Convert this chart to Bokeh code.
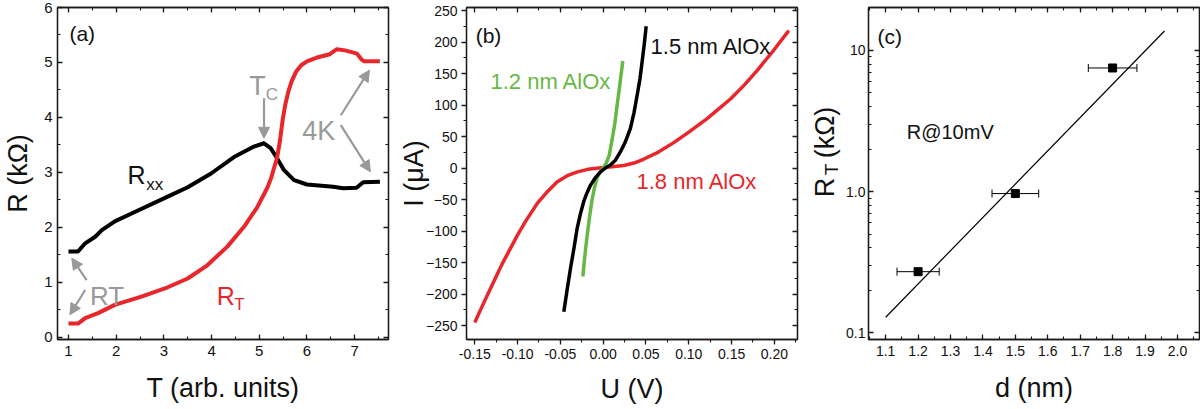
import math
from bokeh.plotting import figure
from bokeh.models import (Label, Arrow, NormalHead, LinearAxis, LogAxis,
                          SingleIntervalTicker, FixedTicker, NumeralTickFormatter,
                          Whisker, TeeHead, ColumnDataSource, Range1d)
from bokeh.layouts import row
from bokeh.embed import file_html
from bokeh.resources import INLINE

# ---------------- data: panel (a) ----------------
T_rxx = [1.0, 1.2, 1.35, 1.56, 1.7, 1.97, 2.39, 3.08, 3.50, 3.99, 4.47, 4.89, 5.10,
         5.24, 5.38, 5.52, 5.73, 6.0, 6.55, 6.76, 7.04, 7.18, 7.53]
R_xx = [1.56, 1.56, 1.71, 1.83, 1.95, 2.11, 2.28, 2.56, 2.73, 2.98, 3.28, 3.47, 3.53,
        3.44, 3.25, 3.04, 2.86, 2.78, 2.74, 2.71, 2.72, 2.82, 2.83]
T_rt = [1.0, 1.2, 1.35, 1.62, 1.97, 2.53, 3.08, 3.50, 3.91, 4.33, 4.68, 4.96, 5.17,
        5.25, 5.31, 5.37, 5.43, 5.49, 5.55, 5.61, 5.68, 5.77, 5.88, 6.00, 6.21, 6.48,
        6.62, 6.80, 7.05, 7.15, 7.20, 7.53]
R_t = [0.25, 0.25, 0.35, 0.44, 0.59, 0.74, 0.91, 1.07, 1.31, 1.65, 2.01, 2.37, 2.72,
       2.90, 3.08, 3.25, 3.55, 3.95, 4.25, 4.47, 4.66, 4.83, 4.95, 5.02, 5.09, 5.15,
       5.24, 5.22, 5.16, 5.05, 5.02, 5.02]

# ---------------- data: panel (b) ----------------
U_18 = [-0.150, -0.142, -0.134, -0.126, -0.118, -0.109, -0.100, -0.090, -0.077, -0.065,
        -0.054, -0.042, -0.030, -0.018, -0.005, 0.010, 0.024, 0.036, 0.047, 0.064,
        0.082, 0.100, 0.121, 0.135, 0.149, 0.165, 0.180, 0.198, 0.2168]
I_18 = [-245, -221, -198, -175, -152, -129, -106, -83, -56, -37, -22, -12, -6, -2, 0,
        2, 4, 8, 14, 25, 40, 57, 78, 94, 110, 132, 155, 185, 218]
U_15 = [-0.046, -0.042, -0.0382, -0.034, -0.0305, -0.0265, -0.0227, -0.0188, -0.0148,
        -0.009, -0.0032, 0.0025, 0.0085, 0.0145, 0.0202, 0.026, 0.0318, 0.036, 0.0397,
        0.043, 0.0455, 0.048, 0.0502]
I_15 = [-228, -192, -159, -126, -96, -72, -53, -39, -27, -15, -6, 0, 5, 13, 26, 42, 63,
        88, 116, 142, 169, 197, 225]
U_12 = [-0.0238, -0.0215, -0.019, -0.016, -0.013, -0.010, -0.007, -0.0035, 0.0, 0.0035,
        0.007, 0.010, 0.0135, 0.016, 0.019, 0.0229]
I_12 = [-172, -140, -110, -78, -50, -30, -15, -6, 0, 8, 20, 42, 70, 97, 128, 170]

# ---------------- data: panel (c) ----------------
d_nm = [1.2, 1.5, 1.8]
RT_kohm = [0.271, 0.968, 7.5]
d_err = [0.065, 0.072, 0.075]
fit_d = [1.1, 1.96]
fit_R = [0.129, 13.7]
c_yticks = [0.1, 1, 10]
c_ylabels = ["0.1", "1.0", "10"]
c_yminor = [0.2, 0.3, 0.4, 0.5, 0.6, 0.7, 0.8, 0.9, 2, 3, 4, 5, 6, 7, 8, 9, 20]

FONT = "Liberation Sans"
RED = "#E8262B"
GREEN = "#66B844"
GRAY = "#999999"
AX = "#1a1a1a"
TOP, BOTTOM = 7, 70


def style_axis(ax, tin, tout, fs, show=True):
    ax.axis_line_color = AX
    ax.axis_line_width = 1.3
    ax.major_tick_line_color = AX
    ax.major_tick_line_width = 1.3
    ax.minor_tick_line_color = AX
    ax.minor_tick_line_width = 1.1
    ax.major_tick_in = tin
    ax.major_tick_out = tout
    ax.minor_tick_in = 3 if tin else 0
    ax.minor_tick_out = 3 if tout else 0
    ax.major_label_text_font = FONT
    ax.axis_label_text_font = FONT
    ax.axis_label_text_font_style = "normal"
    ax.axis_label_text_color = "#111111"
    ax.axis_label_text_font_size = "27px"
    if show:
        ax.major_label_text_font_size = fs
        ax.major_label_text_color = "#111111"
    else:
        ax.major_label_text_font_size = "1px"
        ax.major_label_text_color = None
        ax.major_label_text_alpha = 0
        ax.major_label_standoff = 0


def base_fig(w, left, right, **kw):
    p = figure(width=w, height=409, output_backend="svg", toolbar_location=None,
               min_border_left=left, min_border_right=right, min_border_top=TOP,
               min_border_bottom=BOTTOM, background_fill_color="white",
               border_fill_color="white", **kw)
    p.grid.visible = False
    p.outline_line_color = AX
    p.outline_line_width = 1.3
    return p


def txt(p, x, y, s, size, color="#111111", align="left", baseline="alphabetic", angle=0):
    p.add_layout(Label(x=x, y=y, text=s, text_font=FONT, text_font_size=size,
                       text_color=color, text_align=align, text_baseline=baseline,
                       angle=angle))


def arrow(p, x0, y0, x1, y1):
    p.add_layout(Arrow(x_start=x0, y_start=y0, x_end=x1, y_end=y1, line_color=GRAY,
                       line_width=2.2,
                       end=NormalHead(size=11, fill_color=GRAY, line_color=GRAY)))


# ================= panel (a) =================
pa = base_fig(392, 56, 4, x_range=Range1d(0.77, 7.71), y_range=Range1d(-0.04, 6.0))
pa.line(T_rxx, R_xx, line_color="black", line_width=4, line_join="round")
pa.line(T_rt, R_t, line_color=RED, line_width=4, line_join="round")
for ax in pa.xaxis:
    ax.ticker = SingleIntervalTicker(interval=1, num_minor_ticks=2)
    ax.axis_label = "T (arb. units)"
    ax.major_label_standoff = 6
    ax.axis_label_standoff = 14
    style_axis(ax, 5, 0, "15px")
for ax in pa.yaxis:
    ax.ticker = SingleIntervalTicker(interval=1, num_minor_ticks=2)
    ax.axis_label = "R (kΩ)"
    ax.major_label_standoff = 5
    ax.axis_label_standoff = 8
    style_axis(ax, 5, 0, "15px")
ta = LinearAxis(ticker=SingleIntervalTicker(interval=1, num_minor_ticks=2))
style_axis(ta, 5, 0, "15px", show=False)
pa.add_layout(ta, "above")
ra = LinearAxis(ticker=SingleIntervalTicker(interval=1, num_minor_ticks=2))
style_axis(ra, 5, 0, "15px", show=False)
pa.add_layout(ra, "right")

txt(pa, 1.02, 5.74, "(a)", "21px", baseline="top")
txt(pa, 2.24, 2.95, "R", "25px")
txt(pa, 2.63, 2.78, "xx", "17px")
txt(pa, 4.11, 0.75, "R", "25px", color=RED)
txt(pa, 4.475, 0.60, "T", "17px", color=RED)
txt(pa, 4.79, 4.57, "T", "27px", color=GRAY)
txt(pa, 5.137, 4.41, "C", "17px", color=GRAY)
txt(pa, 5.90, 3.75, "4K", "27px", color=GRAY)
txt(pa, 1.45, 0.75, "RT", "26px", color=GRAY)
arrow(pa, 5.10, 4.35, 5.10, 3.62)
arrow(pa, 6.71, 4.04, 7.31, 4.86)
arrow(pa, 6.71, 3.86, 7.33, 3.01)
arrow(pa, 1.38, 1.04, 1.07, 1.44)
arrow(pa, 1.35, 0.86, 1.03, 0.41)

# ================= panel (b) =================
pb = base_fig(408, 74, 3, x_range=Range1d(-0.1597, 0.227), y_range=Range1d(-272, 254.8))
pb.line(U_18, I_18, line_color=RED, line_width=3.5, line_join="round")
pb.line(U_12, I_12, line_color=GREEN, line_width=3.5, line_join="round")
pb.line(U_15, I_15, line_color="black", line_width=3.5, line_join="round")
for ax in pb.xaxis:
    ax.ticker = SingleIntervalTicker(interval=0.05, num_minor_ticks=2)
    ax.formatter = NumeralTickFormatter(format="0.00")
    ax.axis_label = "U (V)"
    ax.major_label_standoff = 4
    ax.axis_label_standoff = 12
    style_axis(ax, 0, 5, "14px")
for ax in pb.yaxis:
    ax.ticker = SingleIntervalTicker(interval=50, num_minor_ticks=2)
    ax.axis_label = "I (μA)"
    ax.major_label_standoff = 4
    ax.axis_label_standoff = -6
    style_axis(ax, 0, 5, "14px")
tb = LinearAxis(ticker=SingleIntervalTicker(interval=0.05, num_minor_ticks=2))
style_axis(tb, 5, 0, "14px", show=False)
pb.add_layout(tb, "above")
rb = LinearAxis(ticker=SingleIntervalTicker(interval=50, num_minor_ticks=2))
style_axis(rb, 5, 0, "14px", show=False)
pb.add_layout(rb, "right")

txt(pb, -0.149, 229, "(b)", "21px", baseline="top")
txt(pb, 0.0553, 192.9, "1.5 nm AlOx", "22px")
txt(pb, -0.1317, 137.3, "1.2 nm AlOx", "22px", color=GREEN)
txt(pb, 0.0389, -21.4, "1.8 nm AlOx", "22px", color=RED)

# ================= panel (c): y-axis title strip =================
# a narrow figure whose frame has the same vertical extent as the panels;
# its ranges are set so that its coordinates equal page pixels (y measured top-down)
pl = figure(width=42, height=409, output_backend="svg", toolbar_location=None,
            x_range=Range1d(800, 842), y_range=Range1d(409 - BOTTOM, TOP),
            x_axis_location=None, y_axis_location=None,
            min_border_left=0, min_border_right=0, min_border_top=TOP,
            min_border_bottom=BOTTOM,
            background_fill_color="white", border_fill_color="white")
pl.grid.visible = False
pl.outline_line_color = None
txt(pl, 824, 187, "R", "27px", align="center", baseline="middle", angle=math.pi / 2)
txt(pl, 831, 169, "T", "19px", align="center", baseline="middle", angle=math.pi / 2)
txt(pl, 824, 132, "(kΩ)", "27px", align="center", baseline="middle", angle=math.pi / 2)

# ================= panel (c) =================
pc = base_fig(358, 26, 1, x_range=Range1d(1.047, 2.068), y_range=Range1d(0.0897, 20.1),
              y_axis_type="log")
pc.line(fit_d, fit_R, line_color="black", line_width=1.2)
src = ColumnDataSource(dict(x=d_nm, y=RT_kohm,
                            lo=[d - e for d, e in zip(d_nm, d_err)],
                            hi=[d + e for d, e in zip(d_nm, d_err)]))
pc.add_layout(Whisker(source=src, base="y", lower="lo", upper="hi", dimension="width",
                      line_color="black", line_width=1,
                      upper_head=TeeHead(size=8, line_color="black", line_width=1),
                      lower_head=TeeHead(size=8, line_color="black", line_width=1)))
pc.scatter("x", "y", source=src, marker="square", size=8, color="black")
for ax in pc.xaxis:
    ax.ticker = SingleIntervalTicker(interval=0.1, num_minor_ticks=2)
    ax.formatter = NumeralTickFormatter(format="0.0")
    ax.axis_label = "d (nm)"
    ax.major_label_standoff = 6
    ax.axis_label_standoff = 14
    style_axis(ax, 5, 0, "14px")
for ax in pc.yaxis:
    ax.ticker = FixedTicker(ticks=c_yticks, minor_ticks=c_yminor)
    ax.formatter = NumeralTickFormatter(format="0.0")
    ax.major_label_overrides = {t: s for t, s in zip(c_yticks, c_ylabels)}
    ax.major_label_standoff = 3
    style_axis(ax, 5, 0, "14px")
tc = LinearAxis(ticker=SingleIntervalTicker(interval=0.1, num_minor_ticks=2))
style_axis(tc, 5, 0, "14px", show=False)
pc.add_layout(tc, "above")
rc = LogAxis(ticker=FixedTicker(ticks=c_yticks, minor_ticks=c_yminor),
             formatter=NumeralTickFormatter(format="0.0"))
style_axis(rc, 5, 0, "14px", show=False)
pc.add_layout(rc, "right")

txt(pc, 1.075, 15.2, "(c)", "21px", baseline="top")
txt(pc, 1.165, 2.63, "R@10mV", "20px")

layout = row(pa, pb, pl, pc)
open("out.html", "w").write(file_html(layout, INLINE))
